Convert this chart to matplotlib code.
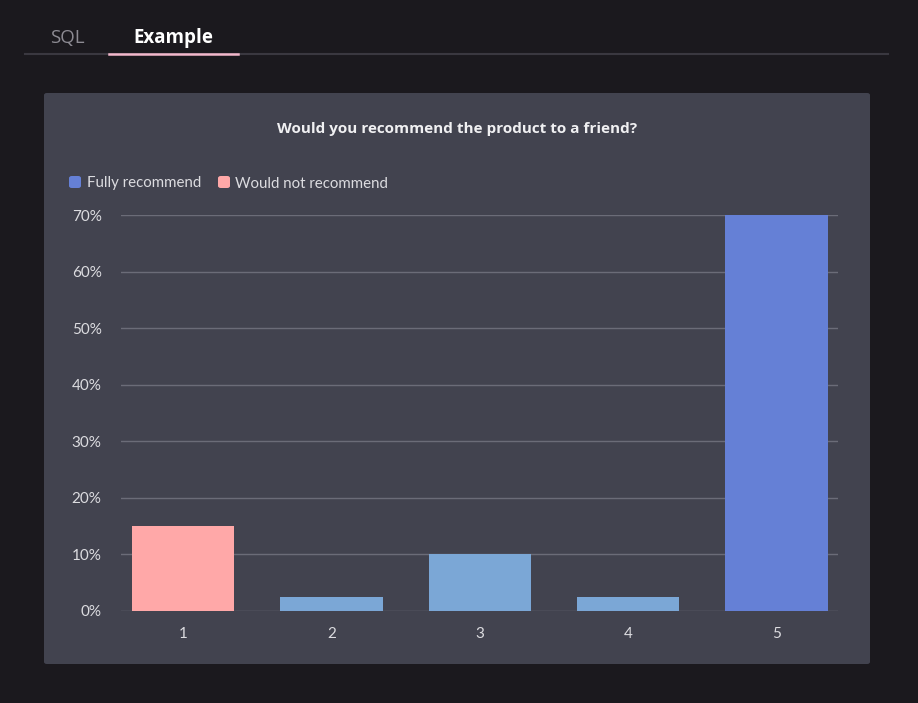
import matplotlib
matplotlib.use("Agg")
import matplotlib.pyplot as plt
from matplotlib.patches import FancyBboxPatch
from matplotlib.lines import Line2D

categories = ["1", "2", "3", "4", "5"]
values = [15, 2.5, 10, 2.5, 70]
bar_colors = ["#ffa8a8", "#7ba7d6", "#7ba7d6", "#7ba7d6", "#6580d6"]
yticks = [0, 10, 20, 30, 40, 50, 60, 70]
ytick_labels = ["0%", "10%", "20%", "30%", "40%", "50%", "60%", "70%"]
legend_labels = ["Fully recommend", "Would not recommend"]
legend_colors = ["#6580d6", "#ffa8a8"]
title = "Would you recommend the product to a friend?"
tabs = ["SQL", "Example"]

W, H = 918, 703
BG = "#1b191e"
CARD = "#42434f"
GRID = "#6b6c78"
TXT = "#dcdce0"

fig = plt.figure(figsize=(W / 100, H / 100), dpi=100, facecolor=BG)

def fx(x):
    return x / W

def fy(y):
    return 1 - y / H

# tabs
fig.add_artist(Line2D([fx(25), fx(888)], [fy(54), fy(54)], color="#3a3840", lw=1.5))
fig.add_artist(Line2D([fx(109), fx(238)], [fy(54), fy(54)], color="#f4b8cc", lw=1.8))
fig.text(fx(67), fy(38), tabs[0], color="#8d8b93", fontsize=13.5, family="Open Sans",
         ha="center", va="center")
fig.text(fx(173), fy(38), tabs[1], color="#ffffff", fontsize=13.5, family="Open Sans",
         fontweight="bold", ha="center", va="center")

# card
card = FancyBboxPatch((fx(44), fy(664)), fx(870) - fx(44), fy(93) - fy(664),
                      boxstyle="round,pad=0,rounding_size=0.003",
                      transform=fig.transFigure, facecolor=CARD, edgecolor="none", zorder=0)
fig.add_artist(card)

fig.text(fx(457), fy(128.5), title, color="#f0f0f2", fontsize=11, family="Open Sans",
         fontweight="bold", ha="center", va="center")

# legend
lx = [75, 224]
tx = [87, 235]
for i in range(2):
    sq = FancyBboxPatch((fx(lx[i] - 6), fy(188)), fx(12), fy(176) - fy(188),
                        boxstyle="round,pad=0,rounding_size=0.003",
                        transform=fig.transFigure, facecolor=legend_colors[i],
                        edgecolor="none", zorder=2)
    fig.add_artist(sq)
    fig.text(fx(tx[i]), fy(183.5), legend_labels[i], color=TXT, fontsize=10.8,
             family="Lato", ha="left", va="center")

# axes
ax = fig.add_axes([fx(121), fy(611), fx(838) - fx(121), fy(215) - fy(611)])
ax.set_facecolor("none")
x = list(range(len(categories)))
ax.bar(x, values, width=0.69, color=bar_colors, zorder=3)
ax.set_xlim(-0.418, 4.415)
ax.set_ylim(0, 70)
ax.set_yticks(yticks)
ax.set_yticklabels(ytick_labels)
ax.set_xticks(x)
ax.set_xticklabels(categories)
ax.grid(axis="y", color=GRID, lw=1, zorder=1)
for s in ax.spines.values():
    s.set_visible(False)
ax.tick_params(axis="both", length=0, colors=TXT, labelsize=11)
ax.tick_params(axis="y", pad=14)
ax.tick_params(axis="x", pad=11.5)
for lab in ax.get_xticklabels() + ax.get_yticklabels():
    lab.set_family("Lato")
    lab.set_color(TXT)

fig.savefig("out.png", dpi=100, facecolor=BG)
